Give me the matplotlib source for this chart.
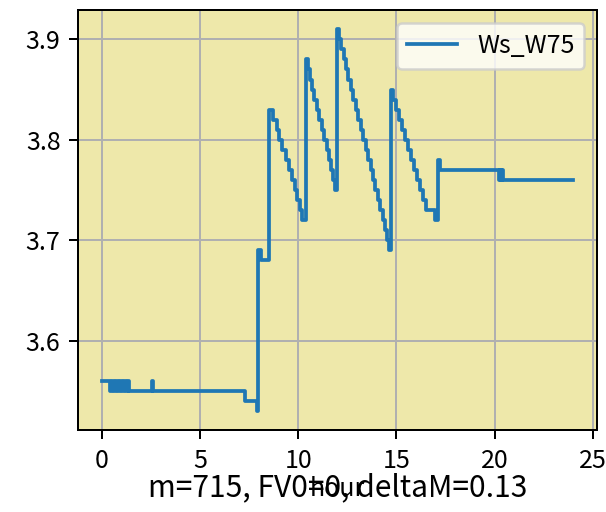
import matplotlib
matplotlib.use("Agg")
from matplotlib import pyplot as plt

plt.rcParams['font.family'] = ['Noto Sans CJK SC', 'DejaVu Sans']
plt.rcParams['font.size'] = 10

# change points of the Ws_W75 series (hour, value), drawn as steps
hours = [0.0, 0.45, 0.55, 0.65, 0.75, 0.85, 0.95, 1.05, 1.15, 1.25, 1.35, 1.42,
         2.58, 2.63, 7.3, 7.9, 7.98, 8.1, 8.5,
         8.7, 8.9, 9.05, 9.2, 9.4, 9.55, 9.7, 9.85, 9.95, 10.1, 10.2, 10.4,
         10.5, 10.6, 10.7, 10.8, 10.95, 11.05, 11.2, 11.3, 11.45, 11.55, 11.65,
         11.75, 11.85, 12.0,
         12.1, 12.2, 12.35, 12.45, 12.55, 12.7, 12.8, 12.95, 13.05, 13.2, 13.3,
         13.45, 13.55, 13.7, 13.8, 13.9, 14.05, 14.15, 14.3, 14.4, 14.5, 14.6, 14.7,
         14.85, 15.0, 15.15, 15.3, 15.45, 15.6, 15.75, 15.9, 16.05, 16.2, 16.35,
         16.5, 16.95, 17.12, 17.2, 20.2, 20.25, 20.3, 20.35, 20.4, 24.0]
ws_w75 = [3.56, 3.55, 3.56, 3.55, 3.56, 3.55, 3.56, 3.55, 3.56, 3.55, 3.56, 3.55,
          3.56, 3.55, 3.54, 3.53, 3.69, 3.68, 3.83,
          3.82, 3.81, 3.80, 3.79, 3.78, 3.77, 3.76, 3.75, 3.74, 3.73, 3.72, 3.88,
          3.87, 3.86, 3.85, 3.84, 3.83, 3.82, 3.81, 3.80, 3.79, 3.78, 3.77,
          3.76, 3.75, 3.91,
          3.90, 3.89, 3.88, 3.87, 3.86, 3.85, 3.84, 3.83, 3.82, 3.81, 3.80,
          3.79, 3.78, 3.77, 3.76, 3.75, 3.74, 3.73, 3.72, 3.71, 3.70, 3.69, 3.85,
          3.84, 3.83, 3.82, 3.81, 3.80, 3.79, 3.78, 3.77, 3.76, 3.75, 3.74,
          3.73, 3.72, 3.78, 3.77, 3.76, 3.77, 3.76, 3.77, 3.76, 3.76]

m = 715
FV0 = 0
deltaM = 0.13

fig = plt.figure(figsize=(606 / 180, 512 / 180), dpi=180)
ax = fig.add_axes([0.1287, 0.160, 0.8563, 0.820])
ax.set_facecolor('#eee8aa')
ax.plot(hours, ws_w75, drawstyle='steps-post', color='tab:blue', lw=1.5, label='Ws_W75')
ax.grid(True)
ax.set_xlabel('hour', labelpad=1)
ax.legend(loc='upper right')

pos = ax.get_position()
fig.text((pos.x0 + pos.x1) / 2, 0.047, f"m={m}, FV0={FV0}, deltaM={deltaM}",
         ha='center', va='center', fontsize=12)

fig.savefig('out.png', dpi=180)
